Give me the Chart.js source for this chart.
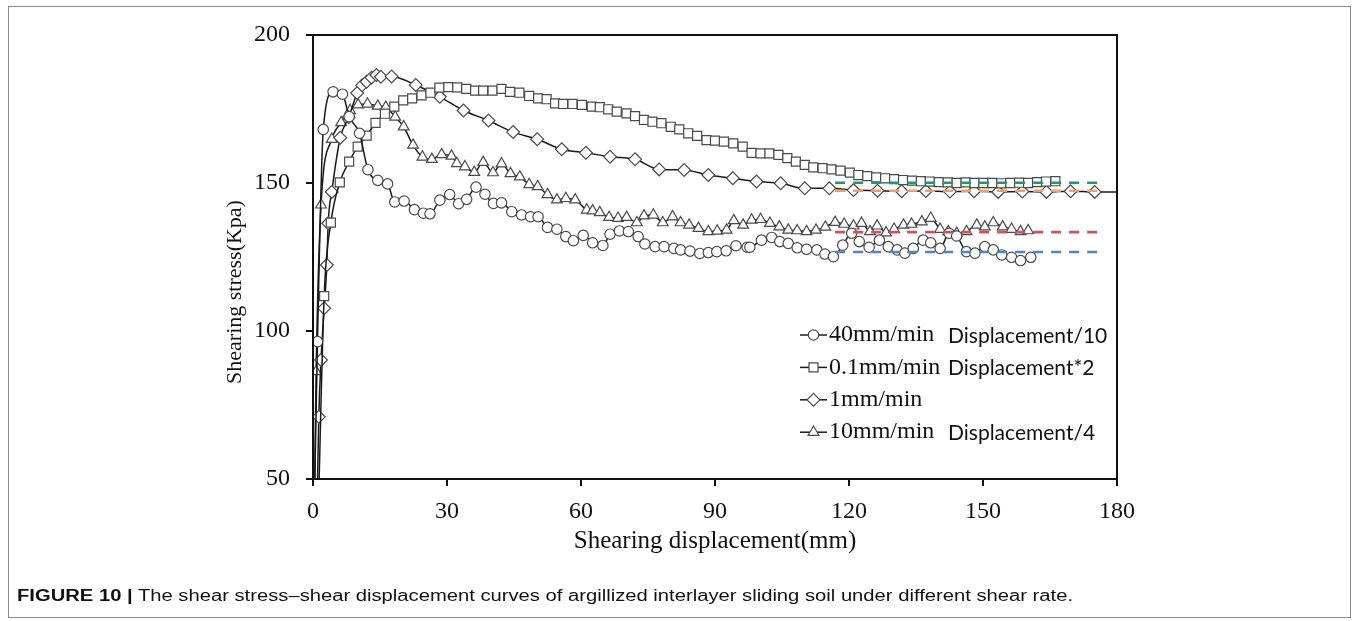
<!DOCTYPE html>
<html><head><meta charset="utf-8">
<script src="https://cdn.jsdelivr.net/npm/chart.js@4.4.1/dist/chart.umd.min.js"></script>
<style>
html,body{margin:0;padding:0;background:#fff;}
#wrap{position:relative;width:1356px;height:621px;overflow:hidden;background:#fff;}
#frame{position:absolute;left:8px;top:6px;width:1341px;height:610px;border:1px solid #8a8a8a;}
#c{position:absolute;left:0;top:0;}
#cap{position:absolute;left:17px;top:587px;font-family:'Liberation Sans Narrow','Liberation Sans',Arial,sans-serif;font-size:16px;color:#111;white-space:nowrap;transform-origin:0 0;}
</style></head><body>
<div id="wrap"><div id="frame"></div><canvas id="c" width="1356" height="621"></canvas>
<div id="cap"><b>FIGURE 10 |</b> The shear stress–shear displacement curves of argillized interlayer sliding soil under different shear rate.</div></div>
<script>
// ---------- data (shearing displacement mm, shearing stress kPa) ----------
const xTicks = [0, 30, 60, 90, 120, 150, 180];
const yTicks = [50, 100, 150, 200];
const xTitle = 'Shearing displacement(mm)';
const yTitle = 'Shearing stress(Kpa)';

const seriesNames = ['40mm/min', '0.1mm/min', '1mm/min', '10mm/min'];
const seriesNotes = ['Displacement/10', 'Displacement*2', '', 'Displacement/4'];

const rate40 = [[0.3,40],[1.0,96.4],[2.3,168.1],[4.5,180.8],[6.6,180],[8.1,172.4],[10.4,166.8],[12.3,154.5],[14.5,150.9],[16.7,149.7],[18.3,143.6],[20.4,143.9],[22.7,141],[24.7,139.8],[26.2,139.6],[28.4,144.2],[30.6,146.1],[32.6,143],[34.4,144.5],[36.5,148.6],[38.5,146.2],[40.4,143.1],[42.2,143.3],[44.5,140.3],[46.7,139.2],[48.7,138.6],[50.4,138.6],[52.5,135],[54.6,134.4],[56.6,131.9],[58.3,130.5],[60.5,132.3],[62.6,129.8],[64.9,128.9],[66.5,132.7],[68.6,133.8],[70.6,133.6],[72.8,131.9],[74.3,129.4],[76.6,128.5],[78.6,128.5],[80.8,127.9],[82.3,127.4],[84.4,127],[86.6,126.2],[88.5,126.5],[90.4,126.8],[92.5,127.1],[94.7,128.8],[97.2,128.3],[97.8,128.3],[100.4,130.7],[102.7,131.6],[104.5,130.2],[106.4,129.6],[108.4,128.1],[110.5,127.6],[112.8,127.4],[114.6,126],[116.5,125.1],[118.6,129],[120.6,133],[122.3,130.2],[124.5,128.3],[126.8,130.7],[128.8,128.5],[130.8,127.4],[132.5,126.3],[134.4,127.9],[136.6,130.7],[138.3,129.8],[140.4,127.9],[142.4,133],[144.1,132.1],[146.3,126.8],[148.2,126.3],[150.4,128.5],[152.3,127.4],[154.2,125.7],[156.4,124.9],[158.4,123.8],[160.7,124.9]];

const rate01 = [[1.2,40],[2.5,111.8],[4,136.6],[6,150.2],[8.1,157.2],[10,162.3],[12,166],[14,170.3],[16.1,173.4],[18.2,175.8],[20.2,177.9],[22.2,178.6],[24.3,179.6],[26.3,180.5],[28.3,182.2],[30.3,182.4],[32.3,182.3],[34.3,181.8],[36.3,181.2],[38.1,181.2],[40.2,181.2],[42.2,181.8],[44.1,180.8],[46.2,180.5],[48.4,179.4],[50.4,178.6],[52.3,178.3],[54.2,176.9],[56,176.7],[58.1,176.7],[60.2,176.4],[62.4,175.8],[64.2,175.6],[66.1,174.9],[68,174.1],[70.2,173.5],[72.1,172.6],[74.1,171.3],[76,170.7],[78,170.2],[80.1,169],[82,168.1],[84,166.8],[86,165.9],[88.1,164.5],[90,164.3],[92,164],[94.1,163.4],[96.2,162.3],[98.2,160.2],[100.2,160],[102.2,160],[104.2,159.5],[106.2,158.4],[108.1,157.2],[110.1,156.1],[112,155.3],[114.1,155],[116.1,154.6],[118.1,154.2],[120.2,153.5],[122.1,152.7],[124.1,152.3],[126.1,151.9],[128.1,151.6],[130.1,151.3],[132.1,151],[134.1,150.8],[136.1,150.6],[138.1,150.5],[140.1,150.3],[142.1,150.2],[144.1,150],[146.1,150.2],[148.1,150],[150.1,150],[152.1,150],[154.1,149.9],[156.1,150],[158.1,150.1],[160.1,150],[162.1,150.3],[164.1,150.5],[166.2,150.6]];

const rate1 = [[0.9,40],[1.3,71],[1.8,90.2],[2.5,107.7],[3.1,122.3],[3.4,136.4],[4.2,147],[6.1,165.3],[8,172.2],[9.9,180.4],[11,183],[12,184.2],[13.1,185.6],[14.2,186.5],[15.2,185.9],[17.6,186],[23,183.1],[28.4,179.1],[33.7,174.5],[39.3,171.1],[44.8,167.2],[50.2,164.8],[55.7,161.4],[61.1,160.2],[66.5,158.9],[72.1,158],[77.5,154.6],[83.1,154.4],[88.5,152.7],[94,151.6],[99.3,150.5],[104.7,149.9],[110.1,148.2],[115.6,148.2],[121,147.6],[126.4,147.4],[131.8,147.2],[137.2,147.3],[142.6,147.1],[148,147.2],[153.4,147],[158.8,147.1],[164.2,147],[169.6,147.2],[175,147],[183,147]];

const rate10 = [[0.3,40],[0.7,86.3],[1.8,142.6],[4.2,164.8],[6.3,170.4],[8.3,174.5],[10.1,176.4],[12.2,176.7],[14.5,176],[16.3,175.6],[18.4,172.3],[20.3,169],[22.4,162.8],[24.5,158.8],[26.6,158],[28.8,159.6],[31,159.1],[32.2,156.6],[34,155.5],[36.1,153.6],[38.1,157],[40.3,153.5],[42.2,156.5],[44.2,153.2],[46.3,152.1],[48.4,149.5],[50.3,148.8],[52.5,146.1],[54.6,144.3],[56.6,144.8],[58.7,144.3],[61.3,140.9],[62.6,140.6],[64.2,140],[66.3,138.4],[68.3,138.1],[70.2,138.4],[72.5,136.6],[74.1,138.9],[76.2,139.2],[78.3,136.6],[80.5,138.6],[82.3,136.6],[84.2,135.8],[86.3,134.7],[88.5,133.6],[90.5,133.8],[92.6,134.1],[94.2,137.3],[96.3,135.8],[98.2,137.5],[100.2,137.7],[102.3,136.4],[104.4,135.2],[106.4,134.1],[108.4,133.9],[110.5,133.6],[112.6,134.1],[114.7,135.1],[116.9,136.7],[118.9,136.1],[121,135.5],[122.8,136.4],[124.7,133.6],[126.3,135.5],[128.3,133.2],[130.1,134.4],[132.2,135.8],[134,136.1],[136.3,136.9],[138.3,138.1],[140.4,134.4],[142.2,133.6],[144.1,133],[146.3,133.6],[148.6,135.8],[150.4,135.2],[152.3,136.6],[154.4,135.2],[156.4,134.4],[158.4,133.6],[160.1,133.9]];

// residual-strength reference lines
const plateauNames = ['0.1mm/min residual', '1mm/min residual', '10mm/min residual', '40mm/min residual'];
const plateauLevels = [150.1, 147.4, 133.4, 126.7];
const plateauRange = [116.9, 176.8];

// ---------- styles ----------
const SERIF = "'Liberation Serif','Times New Roman',serif";
const SANS = "Lato,'Open Sans',sans-serif";
const markerStyles = ['circle', 'rect', 'rectRot', 'triangle'];
const markerRadius = [5.2, 6.4, 6.4, 6.2];
const plateauColors = ['#12a06a', '#f0a057', '#c9545a', '#4f86c0'];

const toPts = arr => arr.map(p => ({x: p[0], y: p[1]}));
const seriesData = [rate40, rate01, rate1, rate10];

const datasets = [];
plateauLevels.forEach((lv, i) => {
  datasets.push({
    label: plateauNames[i],
    data: [{x: plateauRange[0], y: lv}, {x: plateauRange[1], y: lv}],
    borderColor: plateauColors[i], borderWidth: 2.6, borderDash: [10, 8],
    pointRadius: 0, showLine: true, fill: false, order: 0
  });
});
seriesData.forEach((arr, i) => {
  datasets.push({
    label: seriesNames[i],
    data: toPts(arr),
    borderColor: '#1a1a1a', borderWidth: 1.5,
    pointStyle: markerStyles[i],
    pointRadius: ctx => (ctx.dataIndex === 0 || ctx.dataIndex === arr.length - 1 && arr[arr.length-1][0] > 180) ? 0 : markerRadius[i],
    pointBackgroundColor: '#ffffff', pointBorderColor: '#4a4a4a', pointBorderWidth: 1.2,
    showLine: true, fill: false, cubicInterpolationMode: 'monotone', order: 1
  });
});

function marker(ctx, style, x, y, r) {
  ctx.beginPath();
  if (style === 'circle') ctx.arc(x, y, r, 0, Math.PI * 2);
  else if (style === 'rect') { const s = r * Math.SQRT1_2; ctx.rect(x - s, y - s, 2 * s, 2 * s); }
  else if (style === 'rectRot') { ctx.moveTo(x, y - r); ctx.lineTo(x + r, y); ctx.lineTo(x, y + r); ctx.lineTo(x - r, y); ctx.closePath(); }
  else if (style === 'triangle') { const w = r * Math.sqrt(3) / 2; ctx.moveTo(x, y - r); ctx.lineTo(x + w, y + r / 2); ctx.lineTo(x - w, y + r / 2); ctx.closePath(); }
  ctx.fill(); ctx.stroke();
}

const framePlugin = {
  id: 'frame',
  afterDraw(chart) {
    const {ctx, chartArea: a} = chart;
    ctx.save();
    ctx.strokeStyle = '#111'; ctx.lineWidth = 2;
    ctx.strokeRect(a.left, a.top, a.right - a.left, a.bottom - a.top);
    // y axis title (placed as in the original figure, below the plot's centre)
    ctx.save();
    ctx.translate(235, 292); ctx.rotate(-Math.PI / 2);
    ctx.fillStyle = '#111'; ctx.font = '22px ' + SERIF; ctx.textAlign = 'center'; ctx.textBaseline = 'middle';
    ctx.fillText(yTitle, 0, 0);
    ctx.restore();
    // legend
    const L = {x0: 800, x1: 827, tx: 829, nx: 948, y0: 335, dy: 32.4};
    seriesNames.forEach((nm, i) => {
      const y = L.y0 + i * L.dy;
      ctx.strokeStyle = '#1a1a1a'; ctx.lineWidth = 1.5;
      ctx.beginPath(); ctx.moveTo(L.x0, y); ctx.lineTo(L.x1, y); ctx.stroke();
      ctx.fillStyle = '#fff'; ctx.strokeStyle = '#4a4a4a'; ctx.lineWidth = 1.2;
      marker(ctx, markerStyles[i], (L.x0 + L.x1) / 2, y, markerRadius[i]);
      ctx.fillStyle = '#111'; ctx.textBaseline = 'middle'; ctx.textAlign = 'left';
      ctx.font = '24px ' + SERIF;
      ctx.fillText(nm, L.tx, y);
      if (seriesNotes[i]) { ctx.font = '21px ' + SANS; ctx.fillText(seriesNotes[i], L.nx, y + 1); }
    });
    ctx.restore();
  }
};

new Chart(document.getElementById('c'), {
  type: 'scatter',
  data: {datasets},
  options: {
    responsive: false, animation: false, devicePixelRatio: 1,
    layout: {padding: {left: 0, top: 35, right: 239, bottom: 0}},
    plugins: {legend: {display: false}, tooltip: {enabled: false}},
    scales: {
      x: {
        type: 'linear', min: 0, max: 180,
        afterFit: s => { s.height = 142; },
        afterBuildTicks: s => { s.ticks = xTicks.map(v => ({value: v})); },
        border: {display: false},
        grid: {drawOnChartArea: false, drawTicks: true, tickLength: 7, color: '#111', lineWidth: 2},
        ticks: {color: '#111', font: {family: SERIF, size: 24}, padding: 11, maxRotation: 0},
        title: {display: true, text: xTitle, color: '#111', font: {family: SERIF, size: 25}, padding: {top: 0, bottom: 65}}
      },
      y: {
        type: 'linear', min: 50, max: 200,
        afterFit: s => { s.width = 313; },
        afterBuildTicks: s => { s.ticks = yTicks.map(v => ({value: v})); },
        border: {display: false},
        grid: {drawOnChartArea: false, drawTicks: true, tickLength: 7, color: '#111', lineWidth: 2},
        ticks: {color: '#111', font: {family: SERIF, size: 24}, padding: 16},
        title: {display: false}
      }
    }
  },
  plugins: [framePlugin]
});

const cap = document.getElementById('cap');
const w = cap.getBoundingClientRect().width;
cap.style.transform = 'scaleX(' + (1056 / w) + ')';
</script>
</body></html>
